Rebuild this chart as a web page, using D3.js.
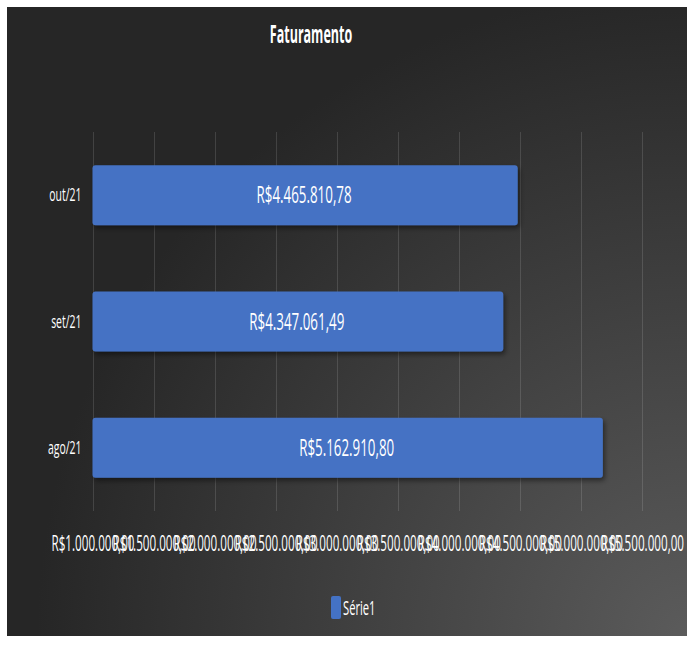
<!DOCTYPE html>
<html>
<head>
<meta charset="utf-8">
<script src="https://cdn.jsdelivr.net/npm/d3@7"></script>
<style>
  html, body { margin: 0; padding: 0; background: #ffffff; }
  svg { display: block; }
  text { font-family: "Open Sans", "Noto Sans", sans-serif; fill: #ffffff; }
</style>
</head>
<body>
<svg id="chart" width="693" height="652"></svg>
<script>
// ---- data ----
const categories = ["out/21", "set/21", "ago/21"];
const values = [4465810.78, 4347061.49, 5162910.80];
const valueLabels = ["R$4.465.810,78", "R$4.347.061,49", "R$5.162.910,80"];
const tickValues = [1000000, 1500000, 2000000, 2500000, 3000000, 3500000, 4000000, 4500000, 5000000, 5500000];
const tickLabels = ["R$1.000.000,00", "R$1.500.000,00", "R$2.000.000,00", "R$2.500.000,00", "R$3.000.000,00",
                    "R$3.500.000,00", "R$4.000.000,00", "R$4.500.000,00", "R$5.000.000,00", "R$5.500.000,00"];
const seriesName = "Série1";
const title = "Faturamento";

// ---- layout ----
const svg = d3.select("#chart");
const W = 693, H = 652;
const frame = { x: 7, y: 7, w: 680, h: 629 };
const plot = { left: 92.5, right: 642, top: 132, bottom: 511 };

function squash(k) {
  return sel => sel.each(function () {
    const len = this.getComputedTextLength();
    d3.select(this).attr("textLength", len * k).attr("lengthAdjust", "spacingAndGlyphs");
  });
}

const defs = svg.append("defs");
const grad = defs.append("radialGradient")
  .attr("id", "bg").attr("gradientUnits", "userSpaceOnUse")
  .attr("cx", frame.x + frame.w).attr("cy", frame.y + frame.h).attr("r", 650);
grad.append("stop").attr("offset", 0).attr("stop-color", "#5b5b5b");
grad.append("stop").attr("offset", 1).attr("stop-color", "#262626");

const shadow = defs.append("filter").attr("id", "shadow")
  .attr("x", "-10%").attr("y", "-20%").attr("width", "130%").attr("height", "160%");
shadow.append("feDropShadow").attr("dx", 2).attr("dy", 3).attr("stdDeviation", 2.5)
  .attr("flood-color", "#000").attr("flood-opacity", 0.45);

svg.append("rect").attr("x", 0).attr("y", 0).attr("width", W).attr("height", H).attr("fill", "#ffffff");
svg.append("rect").attr("x", frame.x).attr("y", frame.y).attr("width", frame.w).attr("height", frame.h)
  .attr("fill", "url(#bg)");

// ---- scales ----
const x = d3.scaleLinear().domain([tickValues[0], tickValues[tickValues.length - 1]])
  .range([plot.left, plot.right]);
const y = d3.scaleBand().domain(categories).range([plot.top, plot.bottom])
  .paddingInner(0.525).paddingOuter(0.2625);

// ---- gridlines ----
svg.append("g").selectAll("line").data(tickValues).join("line")
  .attr("x1", d => Math.round(x(d)) + 0.5).attr("x2", d => Math.round(x(d)) + 0.5)
  .attr("y1", plot.top).attr("y2", plot.bottom)
  .attr("stroke", "rgba(255,255,255,0.13)").attr("stroke-width", 1);

// ---- x axis labels ----
const xAxis = d3.axisBottom(x).tickValues(tickValues)
  .tickFormat((d, i) => tickLabels[i]).tickSize(0).tickPadding(0);
const gx = svg.append("g").attr("transform", `translate(0,${plot.bottom + 33})`).call(xAxis);
gx.select(".domain").remove();
gx.selectAll("text").attr("fill", "#ffffff").attr("font-size", 21)
  .attr("font-family", "Open Sans").attr("dy", "0.35em").call(squash(0.555));

// ---- y axis labels ----
const yAxis = d3.axisLeft(y).tickSize(0).tickPadding(0);
const gy = svg.append("g").attr("transform", `translate(${plot.left - 11},0)`).call(yAxis);
gy.select(".domain").remove();
gy.selectAll("text").attr("fill", "#ffffff").attr("font-size", 19)
  .attr("font-family", "Open Sans").call(squash(0.55));

// ---- bars ----
const rows = categories.map((c, i) => ({ cat: c, value: values[i], label: valueLabels[i] }));
svg.append("g").selectAll("rect").data(rows).join("rect")
  .attr("x", x(tickValues[0]))
  .attr("y", d => y(d.cat))
  .attr("width", d => x(d.value) - x(tickValues[0]) + 2)
  .attr("height", y.bandwidth())
  .attr("rx", 3).attr("ry", 3)
  .attr("fill", "#4472C4")
  .attr("filter", "url(#shadow)");

svg.append("g").selectAll("text").data(rows).join("text")
  .attr("x", d => (x(tickValues[0]) + x(d.value)) / 2)
  .attr("y", d => y(d.cat) + y.bandwidth() / 2)
  .attr("dy", "0.35em")
  .attr("text-anchor", "middle")
  .attr("font-size", 23)
  .text(d => d.label)
  .call(squash(0.58));

// ---- title ----
svg.append("text").attr("x", 311).attr("y", 34).attr("dy", "0.35em")
  .attr("text-anchor", "middle").attr("font-size", 25).attr("font-weight", "bold")
  .text(title).call(squash(0.5));

// ---- legend ----
const lg = svg.append("g").attr("transform", "translate(331,596)");
lg.append("rect").attr("x", 0).attr("y", 0).attr("width", 10).attr("height", 23)
  .attr("rx", 2).attr("fill", "#4472C4");
lg.append("text").attr("x", 12).attr("y", 12).attr("dy", "0.35em")
  .attr("font-size", 20).text(seriesName).call(squash(0.56));
</script>
</body>
</html>
